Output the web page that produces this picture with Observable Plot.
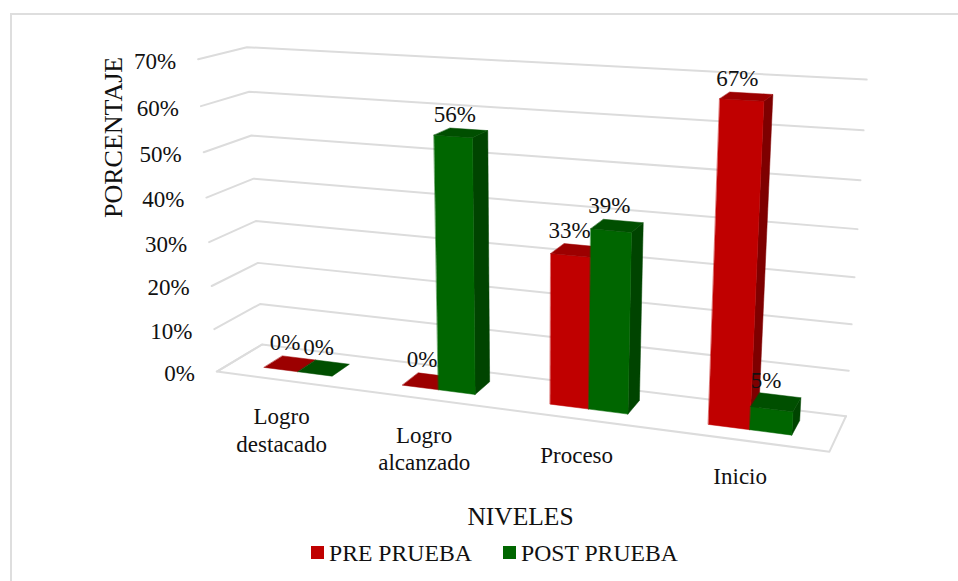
<!DOCTYPE html>
<html>
<head>
<meta charset="utf-8">
<script src="https://cdn.jsdelivr.net/npm/d3@7"></script>
<script src="https://cdn.jsdelivr.net/npm/@observablehq/plot@0.6"></script>
<style>
  html, body { margin: 0; padding: 0; background: #fff; }
  #chart { position: relative; width: 958px; height: 581px; overflow: hidden; font-family: "Liberation Serif", serif; color: #111; }
  #frame { position: absolute; left: 10px; top: 13px; width: 960px; height: 600px; border: 2.5px solid #dedede; box-sizing: border-box; }
  #chart svg { position: absolute; left: 0; top: 0; background: transparent; }
  #legend { position: absolute; left: 311px; top: 539px; font-size: 23.7px; line-height: 28px; white-space: nowrap; }
  #legend span { position: absolute; top: 0; }
  #legend i { position: absolute; top: 7px; width: 13px; height: 13px; }
</style>
</head>
<body>
<div id="chart"><div id="frame"></div><div id="legend"></div></div>
<script>
const categories = ["Logro\ndestacado", "Logro\nalcanzado", "Proceso", "Inicio"];
const preValues = [0, 0, 33, 67];
const postValues = [0, 56, 39, 5];
const seriesNames = ["PRE PRUEBA", "POST PRUEBA"];
const yTicks = [0, 10, 20, 30, 40, 50, 60, 70];

const palette = [
  {front: "#c00000", top: "#9c0000", side: "#7e0000"},
  {front: "#006600", top: "#004f00", side: "#004400"}
];
const W = 958, H = 581, FONT = 23;
const YMAX = 70, BARW = 0.25, D0 = 0.3, D1 = 0.72;

// Camera calibration of the 3-D box: [across, value, depth, screen x, screen y]
const calibration = [
  [0,0,0,217,371],[0,10,0,213,329],[0,40,0,205,197],[0,50,0,203,152],[0,60,0,200,106],[0,70,0,197,59],
  [0,0,1,262,344],[0,10,1,260,303],[0,40,1,253,177],[0,50,1,251,135],[0,60,1,249,91],[0,70,1,248,46],
  [1,0,0,830,452],[1,0,1,847,416],[1,10,1,849,370],[1,50,1,860,180],[1,60,1,863,130],[1,70,1,866,80],
  [.0625,0,.3,265,368],[.125,0,.3,300,372],[.1875,0,.3,330,376],
  [.3125,0,.3,405,385],[.375,0,.3,437,389],[.4375,0,.3,475,393],
  [.5625,0,.3,552,403],[.625,0,.3,588,408],[.6875,0,.3,626,412],
  [.8125,0,.3,710,423],[.875,0,.3,750,428],[.9375,0,.3,789,434],
  [.1875,0,.72,345,365],[.4375,0,.72,487,382],[.6875,0,.72,637,400],[.9375,0,.72,798,422]
];

function solveCamera(rows) {
  const n = 11, A = d3.range(n).map(() => new Array(n + 1).fill(0));
  const add = (r, t) => { for (let i = 0; i < n; i++) { for (let j = 0; j < n; j++) A[i][j] += r[i] * r[j]; A[i][n] += r[i] * t; } };
  for (const [u, v, d, x, y] of rows) {
    const V = v / YMAX, X = x / 1000, Y = y / 1000;
    add([u, V, d, 1, 0, 0, 0, 0, -X * u, -X * V, -X * d], X);
    add([0, 0, 0, 0, u, V, d, 1, -Y * u, -Y * V, -Y * d], Y);
  }
  for (let c = 0; c < n; c++) {
    let p = c; for (let r = c + 1; r < n; r++) if (Math.abs(A[r][c]) > Math.abs(A[p][c])) p = r;
    [A[c], A[p]] = [A[p], A[c]];
    for (let r = 0; r < n; r++) if (r !== c) { const f = A[r][c] / A[c][c]; for (let k = c; k <= n; k++) A[r][k] -= f * A[c][k]; }
  }
  return A.map((row, i) => row[n] / row[i]);
}
const cam = solveCamera(calibration);
function project(u, v, d) {
  const V = v / YMAX, w = cam[8] * u + cam[9] * V + cam[10] * d + 1;
  return {x: 1000 * (cam[0] * u + cam[1] * V + cam[2] * d + cam[3]) / w,
          y: 1000 * (cam[4] * u + cam[5] * V + cam[6] * d + cam[7]) / w};
}

// Gridlines on side wall and back wall
const grid = yTicks.flatMap(t => [[0,0],[0,1],[1,1]].map(([u,d]) => ({tick: t, ...project(u,t,d)})));
const floorEdge = [[0,1],[0,0],[1,0],[1,1]].map(([u,d]) => project(u,0,d));

// Bar faces
const faces = [];
function face(id, color, corners) { corners.forEach(c => faces.push({id, color, ...project(...c)})); }
categories.forEach((c, i) => {
  [preValues[i], postValues[i]].forEach((v, s) => {
    const u0 = (i + 0.5 + (s - 1) * BARW) / 4, u1 = (i + 0.5 + s * BARW) / 4, col = palette[s], k = `${i}-${s}`;
    if (v > 0) {
      face(k + "side", col.side, [[u1,0,D0],[u1,0,D1],[u1,v,D1],[u1,v,D0]]);
      face(k + "front", col.front, [[u0,0,D0],[u1,0,D0],[u1,v,D0],[u0,v,D0]]);
    }
    face(k + "top", col.top, [[u0,v,D0],[u1,v,D0],[u1,v,D1],[u0,v,D1]]);
  });
});

// Value labels
const valueLabels = categories.flatMap((c, i) => [preValues[i], postValues[i]].map((v, s) => ({
  text: v + "%", ...project((i + 0.5 + (s - 0.5) * BARW) / 4, v, D1)
})));
const tickLabels = yTicks.map(t => ({text: t + "%", ...project(0, t, 0)}));
const catLabels = categories.map((c, i) => ({text: c, ...project((i + 0.5) / 4, 0, 0)}));

const plot = Plot.plot({
  width: W, height: H, margin: 0,
  x: {domain: [0, W], range: [0, W], axis: null},
  y: {domain: [0, H], range: [0, H], axis: null},
  style: {fontFamily: "'Liberation Serif', serif", background: "transparent"},
  marks: [
    Plot.line(grid, {x: "x", y: "y", z: "tick", stroke: "#dcdcdc", strokeWidth: 2}),
    Plot.line(floorEdge, {x: "x", y: "y", stroke: "#dcdcdc", strokeWidth: 2}),
    Plot.line(faces, {x: "x", y: "y", z: "id", fill: "color", stroke: "color", strokeWidth: 0.5, curve: "linear-closed"}),
    Plot.text(tickLabels, {x: "x", y: "y", text: "text", textAnchor: "end", dx: -22, dy: 2, fontSize: FONT, fill: "#111"}),
    Plot.text(catLabels, {x: "x", y: "y", text: "text", lineAnchor: "top", dx: -3, dy: 24, lineHeight: 1.2, fontSize: FONT, fill: "#111"}),
    Plot.text(valueLabels, {x: "x", y: "y", text: "text", dx: -14, dy: -15, fontSize: FONT, fill: "#111"}),
    Plot.text(["NIVELES"], {frameAnchor: "bottom", dx: 41, dy: -57, fontSize: 25.5, fill: "#111"}),
    Plot.text(["PORCENTAJE"], {frameAnchor: "left", dx: 113, dy: -73, rotate: -90, fontSize: 26, fill: "#111"})
  ]
});
const chart = document.getElementById("chart");
chart.appendChild(plot);

const legend = document.getElementById("legend");
chart.appendChild(legend);
[[0, 18], [192, 210]].forEach(([sx, tx], s) => {
  legend.insertAdjacentHTML("beforeend",
    `<i style="left:${sx}px;background:${palette[s].front}"></i><span style="left:${tx}px">${seriesNames[s]}</span>`);
});
</script>
</body>
</html>
